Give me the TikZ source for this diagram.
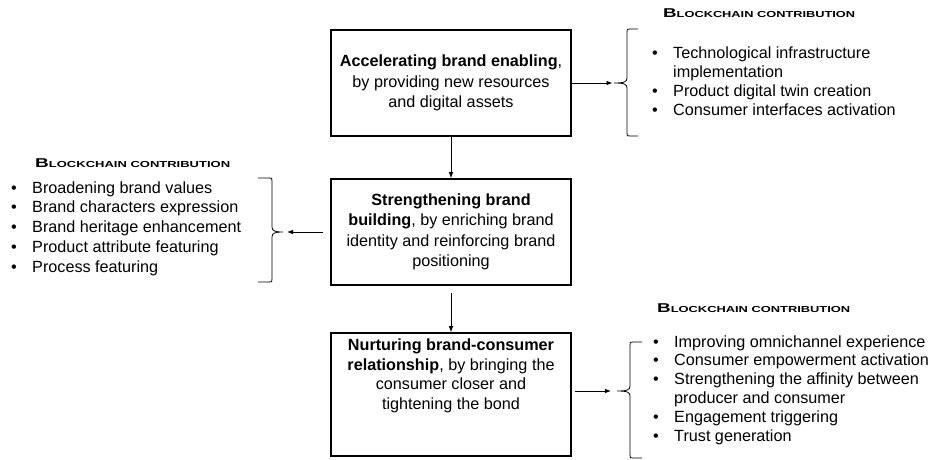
\documentclass[tikz,border=0pt]{standalone}
\usepackage{fontspec}
\setmainfont{Liberation Sans}
\usepackage{graphicx}
\usetikzlibrary{arrows.meta}

% bullet cell of a list row
\newcommand\itm{\makebox[21pt][l]{•}}
% bold small-caps heading above each list
\newcommand\blkhead[1]{\resizebox{#1}{8.8pt}{\bfseries\fontsize{12}{12}\selectfont B\fontsize{8.2}{8.2}\selectfont LOCKCHAIN CONTRIBUTION}}
% opening brace: hook x, spine x, cusp x, top, middle, bottom
\newcommand\lcurly[6]{%
  \draw[bracepen] (#1,#4) -- (#2+3,#4) .. controls (#2,#4) .. (#2,#4+3)
    -- (#2,#5-5) .. controls (#2,#5-1) and (#2-3,#5) .. (#3,#5)
    .. controls (#2-3,#5) and (#2,#5+1) .. (#2,#5+5)
    -- (#2,#6-3) .. controls (#2,#6) .. (#2+3,#6) -- (#1,#6);}
% closing brace: hook x, spine x, cusp x, top, middle, bottom
\newcommand\rcurly[6]{%
  \draw[bracepen] (#1,#4) -- (#2-3,#4) .. controls (#2,#4) .. (#2,#4+3)
    -- (#2,#5-5) .. controls (#2,#5-1) and (#2+3,#5) .. (#3,#5)
    .. controls (#2+3,#5) and (#2,#5+1) .. (#2,#5+5)
    -- (#2,#6-3) .. controls (#2,#6) .. (#2-3,#6) -- (#1,#6);}

\begin{document}
\begin{tikzpicture}[x=1pt,y=-1pt,
  mainbox/.style={draw,line width=1.6pt,minimum width=240pt,inner sep=0pt,
    align=center,font=\fontsize{16.2}{20.5}\selectfont},
  boxtext/.style={inner sep=0pt,align=center,font=\fontsize{16.2}{19.5}\selectfont},
  flow/.style={-{Latex[length=6pt,width=4.5pt]},line width=0.8pt},
  bracepen/.style={line width=0.8pt},
  listtext/.style={anchor=base west,inner sep=0pt},
  headtext/.style={anchor=base west,inner sep=0pt}]
\useasboundingbox (0,0) rectangle (933,459);

% the three stages
\node[mainbox,minimum height=106pt] (enable) at (451,83)
  {\textbf{Accelerating brand enabling},\\by providing new resources\\and digital assets};
\node[mainbox,minimum height=106pt] (build) at (451,232)
  {\textbf{Strengthening brand}\\\textbf{building}, by enriching brand\\identity and reinforcing brand\\positioning};
\node[mainbox,minimum height=123pt] (nurture) at (451,394.5) {};
\node[boxtext,anchor=north] (nurturetext) at (451,339)
  {\textbf{Nurturing brand-consumer}\\\textbf{relationship}, by bringing the\\consumer closer and\\tightening the bond};

% brace cusps
\coordinate (tipA) at (614,83);
\coordinate (tipB) at (283,232);
\coordinate (tipC) at (617,391);

\lcurly{638}{627}{614}{29}{83}{136}
\rcurly{258}{272}{283}{178}{232}{282}
\lcurly{642}{630}{617}{342}{391}{458}

% connectors
\draw[flow] (enable.south) -- (build.north);
\draw[flow,shorten <=7pt] (build.south) -- (nurture.north);
\draw[flow,shorten >=1.5pt] (enable.east) -- (tipA);
\draw[flow,shorten <=7pt,shorten >=4pt] (build.west) -- (tipB);
\draw[flow,shorten <=3pt,shorten >=6pt] (nurture.east |- tipC) -- (tipC);

% headings
\node[headtext] (headA) at (663,17.5) {\blkhead{192pt}};
\node[headtext] (headB) at (35,167.5) {\blkhead{195pt}};
\node[headtext] (headC) at (657,312) {\blkhead{193pt}};

% contribution lists
\node[listtext,font=\fontsize{16.2}{19.3}\selectfont] (listA) at (652,58)
  {\begin{tabular}[t]{@{}l@{}l@{}}
   \itm & Technological infrastructure\\
        & implementation\\
   \itm & Product digital twin creation\\
   \itm & Consumer interfaces activation
   \end{tabular}};
\node[listtext,font=\fontsize{16.2}{19.75}\selectfont] (listB) at (11,193)
  {\begin{tabular}[t]{@{}l@{}l@{}}
   \itm & Broadening brand values\\
   \itm & Brand characters expression\\
   \itm & Brand heritage enhancement\\
   \itm & Product attribute featuring\\
   \itm & Process featuring
   \end{tabular}};
\node[listtext,font=\fontsize{16.2}{18.8}\selectfont] (listC) at (653,347)
  {\begin{tabular}[t]{@{}l@{}l@{}}
   \itm & Improving omnichannel experience\\
   \itm & Consumer empowerment activation\\
   \itm & Strengthening the affinity between\\
        & producer and consumer\\
   \itm & Engagement triggering\\
   \itm & Trust generation
   \end{tabular}};
\end{tikzpicture}
\end{document}
